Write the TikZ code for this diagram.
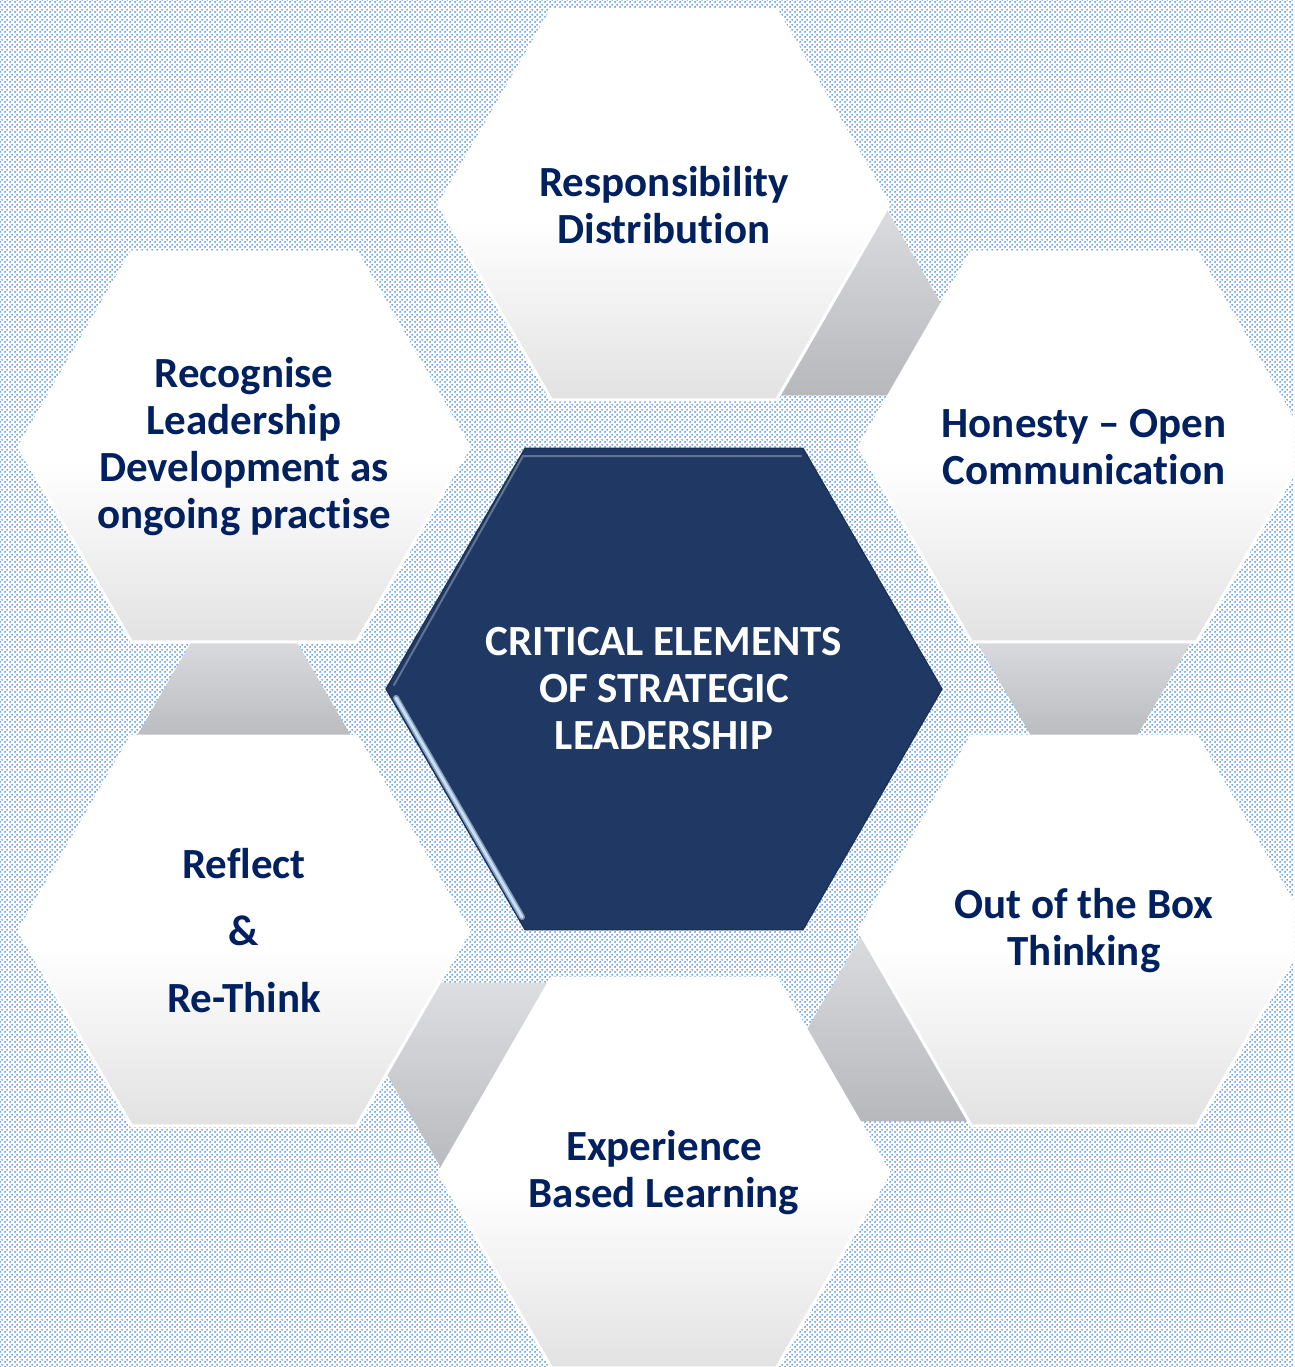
\documentclass[tikz,border=0pt]{standalone}
\usepackage{fontspec}
\setmainfont{Carlito}[Ligatures=NoCommon]
\usetikzlibrary{shapes.geometric,calc,patterns}

\pgfdeclarepatternformonly{bgdots}{\pgfpointorigin}{\pgfpoint{5pt}{5pt}}{\pgfpoint{5pt}{5pt}}{%
  \pgfpathcircle{\pgfpoint{1.25pt}{1.25pt}}{1.1pt}%
  \pgfpathcircle{\pgfpoint{3.75pt}{3.75pt}}{1.1pt}%
  \pgfusepath{fill}}

\definecolor{navytxt}{RGB}{0,32,96}
\definecolor{hexnavy}{RGB}{31,56,100}
\definecolor{dotblue}{RGB}{60,132,218}
\definecolor{bandtop}{RGB}{220,222,225}
\definecolor{bandbot}{RGB}{182,184,188}
\definecolor{hexbot}{RGB}{226,226,227}
\definecolor{glint}{RGB}{200,222,245}

\pgfdeclareverticalshading{hexshade}{100bp}{color(0bp)=(hexbot); color(25bp)=(hexbot); color(48bp)=(white); color(100bp)=(white)}

\newcommand\grayband[2]{%
  \coordinate (bm) at ($(#1.center)!0.5!(#2.center)$);
  \coordinate (bw) at ($(bm)!60pt!(#1.center)$);
  \coordinate (bn) at ($(bm)!60pt!(#2.center)$);
  \shade[top color=bandtop, bottom color=bandbot]
    ($(bw)!114.6pt!90:(#1.center)$) -- ($(bw)!114.6pt!-90:(#1.center)$) --
    ($(bn)!45.4pt!90:(#2.center)$) -- ($(bn)!45.4pt!-90:(#2.center)$) -- cycle;
}

\begin{document}
\begin{tikzpicture}[x=1pt,y=-1pt,
  hexbase/.style={regular polygon, regular polygon sides=6,
    inner sep=0pt, outer sep=0pt},
  outerhex/.style={hexbase, minimum size=450pt, draw=white, line width=3pt,
    shading=hexshade},
  centerhex/.style={hexbase, minimum size=556pt, fill=hexnavy, draw=hexnavy!85!black, line width=1.2pt},
  hexlabel/.style={font=\bfseries\fontsize{43}{47}\selectfont, text=navytxt, align=center},
  centerlabel/.style={font=\bfseries\fontsize{43}{47}\selectfont, text=white, align=center}
]
\useasboundingbox (0,0) rectangle (1294,1367);
\clip (0,0) rectangle (1294,1367);
\fill[white] (0,0) rectangle (1294,1367);
\fill[pattern=bgdots, pattern color=dotblue] (0,0) rectangle (1294,1367);

% positions
\coordinate (pT)  at (664,205);
\coordinate (pUR) at (1084,447);
\coordinate (pLR) at (1084,931);
\coordinate (pB)  at (664,1173);
\coordinate (pLL) at (244,931);
\coordinate (pUL) at (244,447);
\coordinate (pC)  at (664,689);

% invisible anchors for the bands
\node[hexbase, minimum size=450pt] (T)  at (pT)  {};
\node[hexbase, minimum size=450pt] (UR) at (pUR) {};
\node[hexbase, minimum size=450pt] (LR) at (pLR) {};
\node[hexbase, minimum size=450pt] (B)  at (pB)  {};
\node[hexbase, minimum size=450pt] (LL) at (pLL) {};
\node[hexbase, minimum size=450pt] (UL) at (pUL) {};

% gray bands
\grayband{T}{UR}
\grayband{UR}{LR}
\grayband{LR}{B}
\grayband{B}{LL}
\grayband{LL}{UL}

% outer hexagons
\node[outerhex] (hT)  at (pT)  {};
\node[outerhex] (hUR) at (pUR) {};
\node[outerhex] (hLR) at (pLR) {};
\node[outerhex] (hB)  at (pB)  {};
\node[outerhex] (hLL) at (pLL) {};
\node[outerhex] (hUL) at (pUL) {};

% centre hexagon
\node[centerhex] (C) at (pC) {};
\draw[line width=2pt, color=hexnavy!70!white, line cap=round]
  ($(C.center)+(-270,-4)$) -- ($(C.center)+(-141,-233)$) -- ($(C.center)+(137,-233)$);
\draw[line width=6pt, color=glint!60!hexnavy, line cap=round]
  ($(C.center)+(-268,9)$) -- ($(C.center)+(-142,228)$);
\draw[line width=3pt, color=glint, line cap=round]
  ($(C.center)+(-268,9)$) -- ($(C.center)+(-142,228)$);

% labels
\node[hexlabel] (tT)  at (pT)  {Responsibility\\Distribution};
\node[hexlabel] (tUR) at (pUR) {Honesty – Open\\Communication};
\node[hexlabel] (tLR) at (pLR) {Out of the Box\\Thinking};
\node[hexlabel] (tB)  at (pB)  {Experience\\Based Learning};
\node[hexlabel] (tLL) at (pLL) {Reflect\\[20pt]\&\\[20pt]Re-Think};
\node[hexlabel] (tUL) at (pUL) {Recognise\\Leadership\\Development as\\ongoing practise};
\node[centerlabel] (tC) at (pC) {CRITICAL ELEMENTS\\OF STRATEGIC\\LEADERSHIP};
\end{tikzpicture}
\end{document}
